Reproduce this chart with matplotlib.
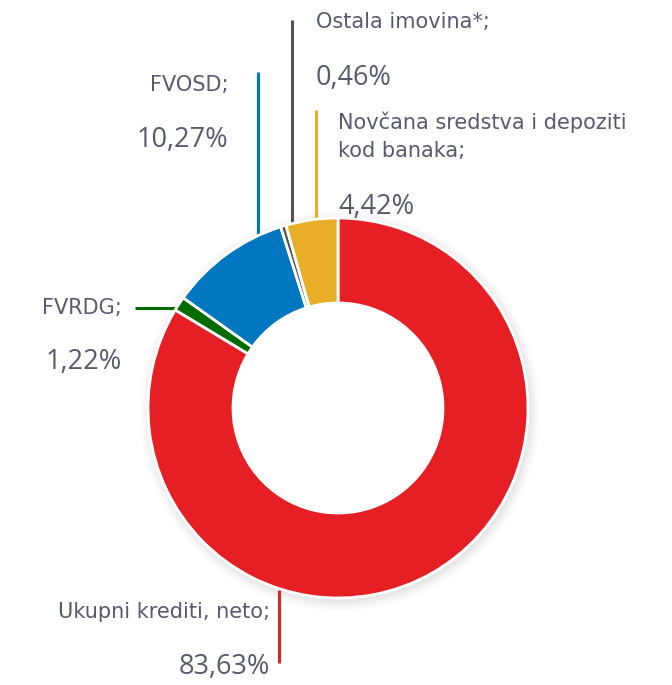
import matplotlib
matplotlib.use("Agg")
import matplotlib.pyplot as plt
import numpy as np

# ---- data ----
categories = ["Ukupni krediti, neto;", "FVRDG;", "FVOSD;", "Ostala imovina*;",
              "Novčana sredstva i depoziti\nkod banaka;"]
values = [83.63, 1.22, 10.27, 0.46, 4.42]
value_labels = ["83,63%", "1,22%", "10,27%", "0,46%", "4,42%"]
colors = ["#e61f25", "#006b00", "#0077c0", "#4f5459", "#e9ae28"]

W, H = 672, 685
fig = plt.figure(figsize=(W / 100, H / 100), dpi=100)
ax = fig.add_axes([0, 0, 1, 1])

cx, cy = 338, H - 408
R, r_in = 190, 105

# soft shadow
for i, a in enumerate(np.linspace(0.018, 0.004, 8)):
    ax.add_patch(plt.Circle((cx + 2, cy - 3), R + 1 + i * 1.5, color="black",
                            alpha=a, lw=0, zorder=0))

wedges, _ = ax.pie(values, colors=colors, startangle=90, counterclock=False,
                   radius=R, center=(cx, cy), frame=True,
                   wedgeprops=dict(width=R - r_in, edgecolor="white", linewidth=2))
for w in wedges:
    w.set_zorder(2)
ax.add_patch(plt.Circle((cx, cy), r_in - 1, color="white", zorder=3))

txt_color = "#565b6e"
lab_font = "DejaVu Sans"
val_font = "Open Sans"
lab_fs = 15
val_fs = 19.5

def py(y):
    return H - y

# leader lines (layout positions in pixel coordinates)
leaders = [
    ((279, 590), (279, 663)),   # Ukupni
    ((177, 308), (135, 308)),   # FVRDG
    ((258, 235), (258, 72)),    # FVOSD
    ((292, 226), (292, 20)),    # Ostala
    ((316, 220), (316, 110)),   # Novcana
]
for (p0, p1), c in zip(leaders, colors):
    ax.plot([p0[0], p1[0]], [py(p0[1]), py(p1[1])], color=c, lw=2.2,
            solid_capstyle="butt", zorder=1)

# label layout: (x, y_label, y_value, ha)
layout = [
    (270, 612, 667, "right"),
    (122, 308, 362, "right"),
    (228, 85, 140, "right"),
    (316, 22, 78, "left"),
    (338, 136, 207, "left"),
]
for (x, yl, yv, ha), lab, val in zip(layout, categories, value_labels):
    ax.text(x, py(yl), lab, ha=ha, va="center", fontsize=lab_fs, color=txt_color,
            family=lab_font, linespacing=1.5)
    ax.text(x, py(yv), val, ha=ha, va="center", fontsize=val_fs, color=txt_color,
            family=val_font)

ax.set_xlim(0, W)
ax.set_ylim(0, H)
ax.set_aspect("equal", adjustable="box")
ax.axis("off")
fig.savefig("out.png", dpi=100, facecolor="white")
